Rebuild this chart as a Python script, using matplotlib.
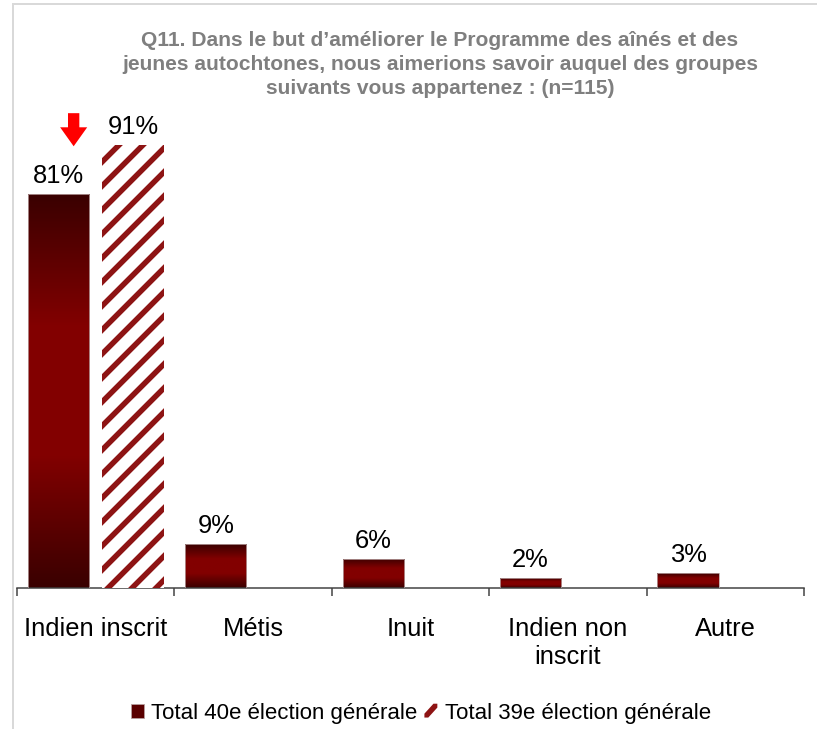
import numpy as np
import matplotlib
matplotlib.use("Agg")
import matplotlib.pyplot as plt
from matplotlib.colors import LinearSegmentedColormap
from matplotlib.patches import Patch, FancyArrow, Polygon, Rectangle
from matplotlib.lines import Line2D
from matplotlib.legend_handler import HandlerBase

# ---- data ----
categories = ["Indien inscrit", "Métis", "Inuit", "Indien non\ninscrit", "Autre"]
series_40 = [81, 9, 6, 2, 3]
series_39 = [91, np.nan, np.nan, np.nan, np.nan]
series_names = ["Total 40e élection générale", "Total 39e élection générale"]
title = ("Q11. Dans le but d’améliorer le Programme des aînés et des\n"
         "jeunes autochtones, nous aimerions savoir auquel des groupes\n"
         "suivants vous appartenez : (n=115)")

# ---- style ----
W, H, DPI = 817, 729, 72
plt.rcParams['font.family'] = ['Liberation Sans', 'DejaVu Sans']
plt.rcParams['hatch.linewidth'] = 5.5

dark = '#3a0000'
mid = '#820000'
stripe = '#8e1414'
cmap = LinearSegmentedColormap.from_list('bar', [dark, mid, mid, dark], N=256)

fig = plt.figure(figsize=(W / DPI, H / DPI), dpi=DPI)
ax = fig.add_axes([17 / W, 1 - 588 / H, (804 - 17) / W, (588 - 101) / H])

x = np.arange(len(categories))
width = 0.39
off = 0.237

bars40 = ax.bar(x - off, series_40, width, facecolor='none',
                edgecolor='#b8a0a0', linewidth=0.8, zorder=3)
bars39 = ax.bar(x + off, series_39, width, facecolor='white',
                edgecolor=stripe, linewidth=0, hatch='/', zorder=3)

grad = np.linspace(0, 1, 128).reshape(-1, 1)
for p in bars40:
    x0, y0 = p.get_x(), p.get_y()
    x1, y1 = x0 + p.get_width(), y0 + p.get_height()
    im = ax.imshow(grad, extent=[x0, x1, y0, y1], cmap=cmap, aspect='auto',
                   origin='lower', zorder=2, interpolation='bilinear')
    im.set_clip_path(p)

ax.set_xlim(-0.5, len(categories) - 0.5)
ax.set_ylim(0, 100)

# value labels
for bars in (bars40, bars39):
    for p in bars:
        h = p.get_height()
        if np.isfinite(h):
            ax.annotate(f"{h:.0f}%", (p.get_x() + p.get_width() / 2, h),
                        xytext=(0, 6), textcoords='offset points',
                        ha='center', va='bottom', fontsize=25.5, color='black')

# red arrow above the first category
cx = bars40[0].get_x() + bars40[0].get_width() / 2 + 0.097
ytop = series_39[0] + 6.5
ax.add_patch(FancyArrow(cx, ytop, 0, -6.8, width=0.072, head_width=0.172,
                        head_length=3.9, length_includes_head=True,
                        color='#ff0000', linewidth=0, zorder=5, clip_on=False))

# axes styling
for s in ('top', 'right', 'left'):
    ax.spines[s].set_visible(False)
ax.spines['bottom'].set_color('#404040')
ax.spines['bottom'].set_linewidth(1.5)
ax.set_yticks([])
ax.set_xticks(x)
ax.set_xticklabels(categories, fontsize=25.5)
ax.tick_params(axis='x', which='major', length=0, pad=29)
for lab in ax.get_xticklabels():
    lab.set_linespacing(1.22)
ax.set_xticks(np.arange(-0.5, len(categories)), minor=True)
ax.tick_params(axis='x', which='minor', length=8, width=1.5, color='#404040',
               direction='out')

# title
fig.text(440 / W, 1 - 31 / H, title, ha='center', va='top', fontsize=21,
         fontweight='bold', color='#7f7f7f', linespacing=1.32)


# legend
class StripeHandler(HandlerBase):
    def create_artists(self, legend, orig_handle, xdescent, ydescent,
                       width, height, fontsize, trans):
        bg = Rectangle((-xdescent, -ydescent), width, height, facecolor='white',
                       edgecolor='none', transform=trans)
        w, h = width, height
        x0, y0 = -xdescent, -ydescent
        t = 0.3 * w
        poly = Polygon([(x0, y0), (x0 + t, y0), (x0 + w, y0 + h - t),
                        (x0 + w, y0 + h), (x0 + w - t, y0 + h), (x0, y0 + t)],
                       closed=True, facecolor=stripe, edgecolor='none',
                       transform=trans)
        return [bg, poly]


class StripeHandle:
    pass


handles = [Patch(facecolor='#5a0000', edgecolor='#b8a0a0', linewidth=0.8),
           StripeHandle()]
fig.legend(handles, series_names, loc='center', bbox_to_anchor=(421 / W, 1 - 713 / H),
           ncol=2, frameon=False, fontsize=22.3, handlelength=0.58, handleheight=0.58,
           handletextpad=0.35, columnspacing=0.3, borderaxespad=0,
           handler_map={StripeHandle: StripeHandler()})

# outer frame lines (top and left)
fig.add_artist(Line2D([12.5 / W, 12.5 / W], [0, 1 - 4 / H], color='#d9d9d9', lw=2,
                      transform=fig.transFigure))
fig.add_artist(Line2D([12.5 / W, 1], [1 - 4 / H, 1 - 4 / H], color='#d9d9d9', lw=2,
                      transform=fig.transFigure))

fig.savefig('out.png', dpi=DPI)
